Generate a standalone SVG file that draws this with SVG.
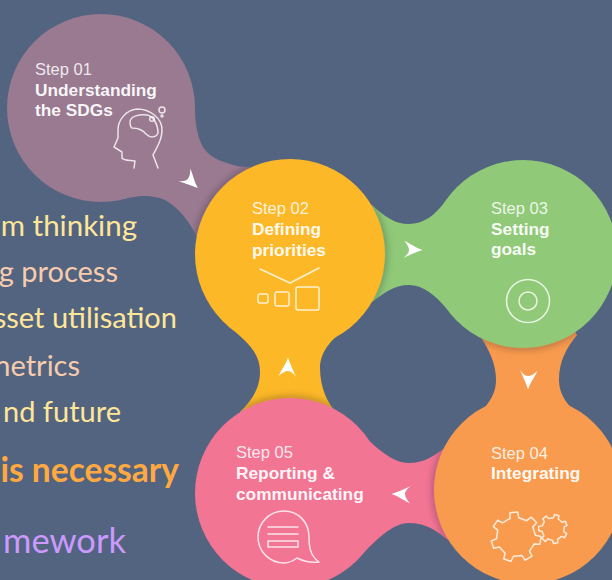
<svg xmlns="http://www.w3.org/2000/svg" xmlns:xlink="http://www.w3.org/1999/xlink" width="612" height="580" viewBox="0 0 612 580">
<style>
.step{font:16.5px "Liberation Sans",Arial,sans-serif;fill:#fff;fill-opacity:.85}
.bold{font:bold 17.3px "Liberation Sans",Arial,sans-serif;fill:#fff;fill-opacity:.95}
.ico{fill:none;stroke:#fff;stroke-opacity:.8;stroke-width:1.5;stroke-linejoin:round;stroke-linecap:round}
.side{font-family:Lato,"Open Sans",sans-serif;font-size:29px;text-anchor:end}
.y{fill:#FFE699}.p{fill:#F8CBAD}
.shadow{fill:#1d1d2a;fill-opacity:.32;filter:url(#blur)}
.arrow{fill:#fff}
</style>
<defs>
<filter id="blur" x="-20%" y="-20%" width="140%" height="140%"><feGaussianBlur stdDeviation="4"/></filter>
<path id="c1" d="M195,108 C195,125 198,138 203,147 C209,156 217,160 227,163 C235,166 242,167 250,167 L290,254 L197,237 C190,222 178,207 165,200 C158,197 150,196 145,196 C136,196 130,198 122,199 L101,108 Z"/>
<path id="c2" d="M372,205 C385,217 395,224 409,224 C423,224 435,216 447,199 L523,254 L447,309 C435,295 423,285 409,285 C395,285 385,292 372,302 L290,254 Z"/>
<path id="c3" d="M478,333 C490,350 496,365 496,380 C496,400 480,415 462,424 L528,490 L603,433 C585,420 559,405 559,380 C559,362 566,348 577,335 L523,254 Z"/>
<path id="c4" d="M355,427 C375,447 392,463 409,463 C425,463 436,455 448,445 L528,490 L448,540 C436,530 425,523 409,523 C392,523 376,540 358,559 L290,493 Z"/>
<path id="c5" d="M228,326 C248,342 260,353 260,372 C260,390 250,402 240,412 L290,493 L338,414 C328,405 320,388 320,368 C320,350 335,335 352,325 L290,254 Z"/>
<clipPath id="k1"><use xlink:href="#c1"/></clipPath>
<clipPath id="k2"><use xlink:href="#c2"/></clipPath>
<clipPath id="k3"><use xlink:href="#c3"/></clipPath>
<clipPath id="k4"><use xlink:href="#c4"/></clipPath>
<clipPath id="k5"><use xlink:href="#c5"/></clipPath>
<path id="chev" d="M10.5,0 C4,-2 -1,-6 -8,-9.5 C-5,-6 -3,-3 -3,0 C-3,3 -6,6 -9,8 C-2,5 4,2 10.5,0 Z"/>
<path id="gear" d="M-6,-18.5 L-6,-24.3 L1.7,-24.9 L2.7,-19.3 L10.7,-16.3 L15.2,-19.9 L20.6,-14.2 L16.8,-9.9 L19.4,-1.7 L25,-.5 L23.9,7.3 L18.2,7 L13.5,14.1 L16,19.2 L9.2,23.2 L5.9,18.6 L-2.6,19.3 L-5.1,24.5 L-12.4,21.7 L-10.8,16.2 L-16.7,10 L-22.3,11.3 L-24.7,3.9 L-19.4,1.7 L-18.3,-6.9 L-22.7,-10.4 L-18.4,-16.9 L-13.4,-14.2 Z"/>
</defs>
<rect width="612" height="580" fill="#526480"/>
<g id="side-text">
<text class="side y" x="137" y="236" style="font-size:29.5px">m thinking</text>
<text class="side p" x="118" y="282">g process</text>
<text class="side y" x="177" y="328">sset utilisation</text>
<text class="side p" x="80" y="376">netrics</text>
<text class="side y" x="121" y="422">nd future</text>
<text class="side" x="179" y="482" style="font-weight:700;font-size:33.5px" fill="#FFA940">is necessary</text>
<text class="side" x="126" y="553" style="font-size:34.5px" fill="#CC99FF">mework</text>
</g>
<g id="connectors">
<use xlink:href="#c1" fill="#9A7A90"/>
<g clip-path="url(#k1)"><circle class="shadow" cx="290" cy="254" r="96"/></g>
<use xlink:href="#c2" fill="#90C978"/>
<g clip-path="url(#k2)"><circle class="shadow" cx="290" cy="254" r="96"/></g>
<use xlink:href="#c3" fill="#F99B4E"/>
<g clip-path="url(#k3)"><circle class="shadow" cx="523" cy="254" r="95"/></g>
<use xlink:href="#c4" fill="#F37594"/>
<g clip-path="url(#k4)"><circle class="shadow" cx="528" cy="490" r="95"/></g>
<use xlink:href="#c5" fill="#FDB827"/>
<g clip-path="url(#k5)"><circle class="shadow" cx="290" cy="493" r="96"/></g>
<use xlink:href="#chev" class="arrow" transform="translate(190,181) rotate(42)"/>
<use xlink:href="#chev" class="arrow" transform="translate(412,250)"/>
<use xlink:href="#chev" class="arrow" transform="translate(528,379) rotate(90)"/>
<use xlink:href="#chev" class="arrow" transform="translate(402,494) rotate(180)"/>
<use xlink:href="#chev" class="arrow" transform="translate(288,368) rotate(-90)"/>
</g>
<g id="step1">
<circle cx="101" cy="108" r="94" fill="#9A7A90"/>
<text class="step" x="35" y="75">Step 01</text>
<text class="bold" x="35" y="96">Understanding</text>
<text class="bold" x="35" y="116">the SDGs</text>
<path class="ico" d="M158,168 L153,155 C156,148 162,142 162,130 C162,118 150,109 137,109 C126,110 118,120 118,130 L118,138 L114,147 L122,152 L122,158 C124,161 130,160 135,161 L134,168"/>
<path class="ico" d="M130,122 C130,116 140,114 147,115 C153,116 158,124 158,133 C156,138 150,138 146,134 C142,129 138,128 132,128 C130,127 130,124 130,122 Z"/>
<circle class="ico" cx="162" cy="110" r="3"/><circle class="ico" cx="152" cy="119" r="2.3"/><circle class="ico" cx="162" cy="116" r="1"/>
</g>
<g id="step2">
<circle cx="290" cy="254" r="95" fill="#FDB827"/>
<text class="step" x="252" y="214">Step 02</text>
<text class="bold" x="252" y="235">Defining</text>
<text class="bold" x="252" y="256">priorities</text>
<path class="ico" d="M260,269 L290,283 L319,268"/>
<rect class="ico" x="258" y="294" width="10" height="9" rx="2"/>
<rect class="ico" x="275" y="292" width="14" height="14" rx="2"/>
<rect class="ico" x="296" y="287" width="23" height="23" rx="2"/>
</g>
<g id="step3">
<circle cx="523" cy="254" r="94" fill="#90C978"/>
<text class="step" x="491" y="214">Step 03</text>
<text class="bold" x="491" y="235">Setting</text>
<text class="bold" x="491" y="255">goals</text>
<circle class="ico" cx="528" cy="301" r="21.5"/>
<circle class="ico" cx="528" cy="301" r="9"/>
</g>
<g id="step4">
<circle cx="528" cy="490" r="94" fill="#F99B4E"/>
<text class="step" x="491" y="459">Step 04</text>
<text class="bold" x="491" y="479">Integrating</text>
<use xlink:href="#gear" class="ico" transform="translate(516,537)"/>
<use xlink:href="#gear" class="ico" style="stroke-width:2.6" transform="translate(553,529) rotate(20) scale(.58)"/>
</g>
<g id="step5">
<circle cx="290" cy="493" r="95" fill="#F37594"/>
<text class="step" x="236" y="458">Step 05</text>
<text class="bold" x="236" y="479">Reporting &amp;</text>
<text class="bold" x="236" y="500">communicating</text>
<path class="ico" d="M284,511 C298,511 309,522 309,537 C309,546 310,556 319,562 C311,563 303,561 297,558 C293,561 289,563 284,563 A26,26 0 1 1 284,511 Z"/>
<path class="ico" d="M268,527 H298 M268,534 H298"/>
<rect class="ico" x="268" y="541" width="30" height="6"/>
</g>
</svg>
